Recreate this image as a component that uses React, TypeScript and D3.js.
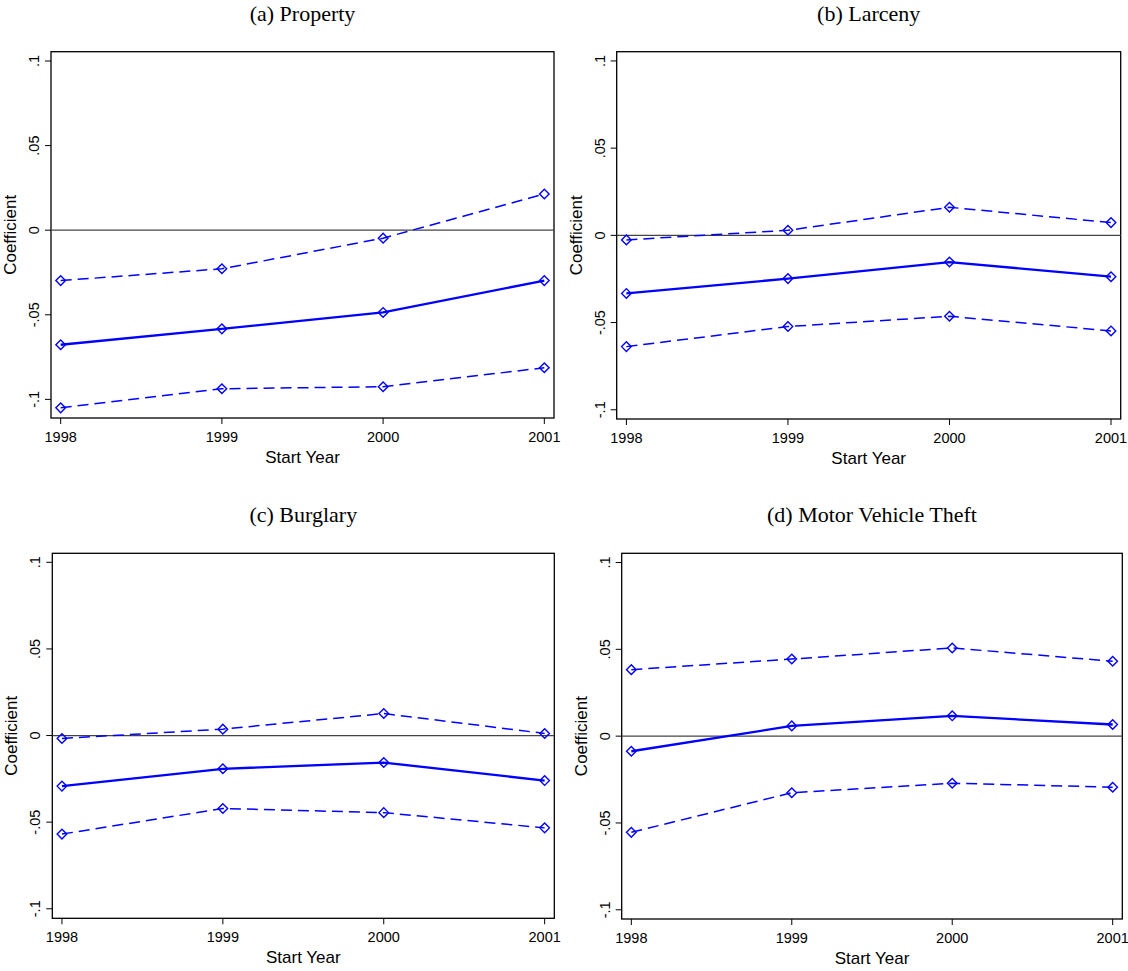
import React from "react";
import * as d3 from "d3";

const years = [1998, 1999, 2000, 2001];
const panelTitles = ["(a) Property", "(b) Larceny", "(c) Burglary", "(d) Motor Vehicle Theft"];

const propertyCoef = [-0.0677, -0.0583, -0.0486, -0.0298];
const propertyUpper = [-0.0298, -0.0228, -0.0047, 0.0214];
const propertyLower = [-0.105, -0.0937, -0.0925, -0.0813];

const larcenyCoef = [-0.0333, -0.0248, -0.0153, -0.0237];
const larcenyUpper = [-0.0026, 0.0029, 0.0161, 0.0073];
const larcenyLower = [-0.0638, -0.0523, -0.0464, -0.0548];

const burglaryCoef = [-0.0292, -0.0192, -0.0156, -0.026];
const burglaryUpper = [-0.0017, 0.0037, 0.0127, 0.0012];
const burglaryLower = [-0.0569, -0.0421, -0.0445, -0.0533];

const mvtCoef = [-0.0087, 0.0059, 0.0117, 0.0067];
const mvtUpper = [0.0383, 0.0444, 0.0508, 0.0431];
const mvtLower = [-0.0554, -0.0326, -0.0271, -0.0294];

const yTicks = [-0.1, -0.05, 0, 0.05, 0.1];
const yTickLabels = ["-.1", "-.05", "0", ".05", ".1"];
const xTitle = "Start Year";
const yTitle = "Coefficient";

const panelSeries = [
  { coef: propertyCoef, upper: propertyUpper, lower: propertyLower },
  { coef: larcenyCoef, upper: larcenyUpper, lower: larcenyLower },
  { coef: burglaryCoef, upper: burglaryUpper, lower: burglaryLower },
  { coef: mvtCoef, upper: mvtUpper, lower: mvtLower },
];

// layout (pixel boxes of each plot region and y-domain padding)
const layouts = [
  { left: 51, right: 554, top: 51.7, bottom: 418, yDom: [-0.111, 0.1055], titleY: 21 },
  { left: 616.7, right: 1120.7, top: 51.7, bottom: 419, yDom: [-0.1053, 0.1053], titleY: 21 },
  { left: 52.3, right: 554.3, top: 553.3, bottom: 918.3, yDom: [-0.1055, 0.1052], titleY: 522 },
  { left: 621.7, right: 1122.3, top: 553.3, bottom: 919, yDom: [-0.1053, 0.1053], titleY: 522 },
];

const BLUE = "#0000ff";
const SANS = "Liberation Sans, Arial, sans-serif";
const SERIF = "Liberation Serif, Times New Roman, serif";

function diamond(x: number, y: number, r: number) {
  return `M${x},${y - r}L${x + r},${y}L${x},${y + r}L${x - r},${y}Z`;
}

function Panel({ idx }: { idx: number }) {
  const L = layouts[idx];
  const s = panelSeries[idx];
  const x = d3.scaleLinear().domain([1998 - 0.06, 2001 + 0.06]).range([L.left, L.right]);
  const y = d3.scaleLinear().domain(L.yDom).range([L.bottom, L.top]);
  const line = d3
    .line<number>()
    .x((_, i) => x(years[i]))
    .y((d) => y(d));
  const cx = (L.left + L.right) / 2;
  const cy = (L.top + L.bottom) / 2;
  const series = [
    { vals: s.upper, dash: "11,6", w: 1.5 },
    { vals: s.lower, dash: "11,6", w: 1.5 },
    { vals: s.coef, dash: null, w: 2.3 },
  ];
  return (
    <g>
      <text x={cx} y={L.titleY} textAnchor="middle" fontFamily={SERIF} fontSize={22} fill="#000">
        {panelTitles[idx]}
      </text>
      <rect x={L.left} y={L.top} width={L.right - L.left} height={L.bottom - L.top} fill="none" stroke="#000" strokeWidth={1.3} />
      <line x1={L.left} x2={L.right} y1={y(0)} y2={y(0)} stroke="#444" strokeWidth={1.3} />
      {yTicks.map((t, i) => (
        <g key={"yt" + i}>
          <line x1={L.left - 6} x2={L.left} y1={y(t)} y2={y(t)} stroke="#000" strokeWidth={1} />
          <text
            transform={`translate(${L.left - 12},${y(t)}) rotate(-90)`}
            textAnchor="middle"
            fontFamily={SANS}
            fontSize={14.5}
            fill="#000"
          >
            {yTickLabels[i]}
          </text>
        </g>
      ))}
      {years.map((yr) => (
        <g key={"xt" + yr}>
          <line x1={x(yr)} x2={x(yr)} y1={L.bottom} y2={L.bottom + 6} stroke="#000" strokeWidth={1} />
          <text x={x(yr)} y={L.bottom + 24} textAnchor="middle" fontFamily={SANS} fontSize={14.5} fill="#000">
            {yr}
          </text>
        </g>
      ))}
      <text x={cx} y={L.bottom + 44.5} textAnchor="middle" fontFamily={SANS} fontSize={17} fill="#000">
        {xTitle}
      </text>
      <text
        transform={`translate(${L.left - 35},${cy}) rotate(-90)`}
        textAnchor="middle"
        fontFamily={SANS}
        fontSize={17}
        fill="#000"
      >
        {yTitle}
      </text>
      {series.map((se, k) => (
        <g key={"s" + k}>
          <path d={line(se.vals) || ""} fill="none" stroke={BLUE} strokeWidth={se.w} strokeDasharray={se.dash || undefined} />
          {se.vals.map((v, i) => (
            <path key={i} d={diamond(x(years[i]), y(v), 4.8)} fill="none" stroke={BLUE} strokeWidth={1.4} />
          ))}
        </g>
      ))}
    </g>
  );
}

export default function App() {
  return (
    <svg
      width={1128}
      height={971}
      style={{ position: "absolute", left: 0, top: 0, background: "#fff" }}
      xmlns="http://www.w3.org/2000/svg"
    >
      <rect x={0} y={0} width={1128} height={971} fill="#fff" />
      {[0, 1, 2, 3].map((i) => (
        <Panel key={i} idx={i} />
      ))}
    </svg>
  );
}
